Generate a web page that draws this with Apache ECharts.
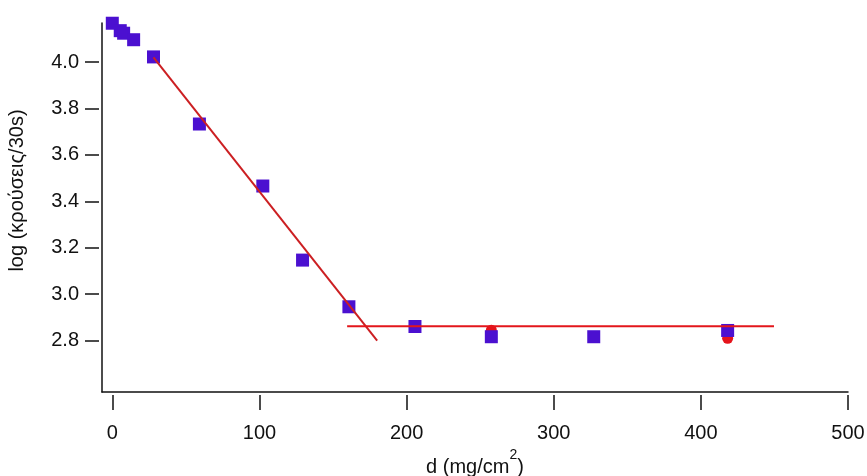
<!DOCTYPE html>
<html>
<head>
<meta charset="utf-8">
<script src="https://cdn.jsdelivr.net/npm/echarts@6/dist/echarts.min.js"></script>
<style>
  html, body { margin: 0; padding: 0; background: #fff; }
  #chart { width: 867px; height: 476px; }
</style>
</head>
<body>
<div id="chart"></div>
<script>
// measured points: d (mg/cm2), log(counts/30s)
var squarePts = [
    [0, 4.167], [5.4, 4.135], [7.7, 4.124], [14.5, 4.096], [28, 4.022],
    [59.2, 3.733], [102.3, 3.466], [129.3, 3.147], [160.8, 2.946],
    [205.7, 2.861], [257.6, 2.817], [327.2, 2.817], [418.2, 2.844]
];
// red dots partly hidden behind the squares
var circlePts = [[257.6, 2.845], [418.2, 2.81]];
// fitted lines (end points)
var fitSlope = [[28, 4.02], [180, 2.80]];
var fitFlat = [[159.6, 2.862], [449.7, 2.862]];
// tick labels
var xTicks = [0, 100, 200, 300, 400, 500];
var yTicks = [2.8, 3.0, 3.2, 3.4, 3.6, 3.8, 4.0];

var chart = echarts.init(document.getElementById('chart'));
var font = "'Liberation Sans', Arial, Helvetica, sans-serif";
var xMin = -7, xMax = 500, yMin = 2.579, yMax = 4.168;

// plain axis line at the plot edge
var lineOnly = {
    type: 'value',
    axisLine: { show: true, onZero: false, lineStyle: { color: '#111', width: 1.5 } },
    axisTick: { show: false },
    axisLabel: { show: false },
    splitLine: { show: false }
};

chart.setOption({
    animation: false,
    backgroundColor: '#fff',
    grid: { left: 102, right: 19, top: 23, bottom: 84, outerBoundsMode: 'none' },
    xAxis: [
        Object.assign({}, lineOnly, { min: xMin, max: xMax, position: 'bottom' }),
        {
            type: 'value', min: xMin, max: xMax, position: 'bottom', offset: 3,
            axisLine: { show: false, onZero: false },
            axisTick: { show: true, customValues: xTicks, length: 15, lineStyle: { color: '#111', width: 1.5 } },
            axisLabel: {
                customValues: xTicks, margin: 28, color: '#111', fontSize: 20, fontFamily: font,
                formatter: function (v) { return String(v); }
            },
            splitLine: { show: false },
            name: 'd (mg/cm{sup|2})',
            nameLocation: 'middle',
            nameGap: 46,
            nameTextStyle: {
                color: '#111', fontSize: 20, fontFamily: font,
                rich: { sup: { fontSize: 14, fontFamily: font, color: '#111', verticalAlign: 'bottom', padding: [0, 0, 26, 0] } }
            }
        }
    ],
    yAxis: [
        Object.assign({}, lineOnly, { min: yMin, max: yMax, position: 'left' }),
        {
            type: 'value', min: yMin, max: yMax, position: 'left', offset: 3,
            axisLine: { show: false, onZero: false },
            axisTick: { show: true, customValues: yTicks, length: 14, lineStyle: { color: '#111', width: 1.5 } },
            axisLabel: {
                customValues: yTicks, margin: 20, color: '#111', fontSize: 20, fontFamily: font,
                formatter: function (v) { return v.toFixed(1); }
            },
            splitLine: { show: false },
            name: 'log (κρούσεις/30s)',
            nameLocation: 'middle',
            nameGap: 72,
            nameRotate: 90,
            nameTextStyle: { color: '#111', fontSize: 20, fontFamily: font, padding: [0, 0, 0, 34] }
        }
    ],
    series: [
        {
            type: 'scatter', data: circlePts, symbol: 'circle', symbolSize: 11,
            itemStyle: { color: '#E5131B', opacity: 1 }, z: 2
        },
        {
            type: 'scatter', data: squarePts, symbol: 'rect', symbolSize: 13,
            itemStyle: { color: '#4B10D0', opacity: 1 }, z: 3
        },
        {
            type: 'line', data: fitSlope, showSymbol: false, silent: true,
            lineStyle: { color: '#CC1F22', width: 2 }, z: 4
        },
        {
            type: 'line', data: fitFlat, showSymbol: false, silent: true,
            lineStyle: { color: '#E3161B', width: 2 }, z: 4
        }
    ]
});
</script>
</body>
</html>
